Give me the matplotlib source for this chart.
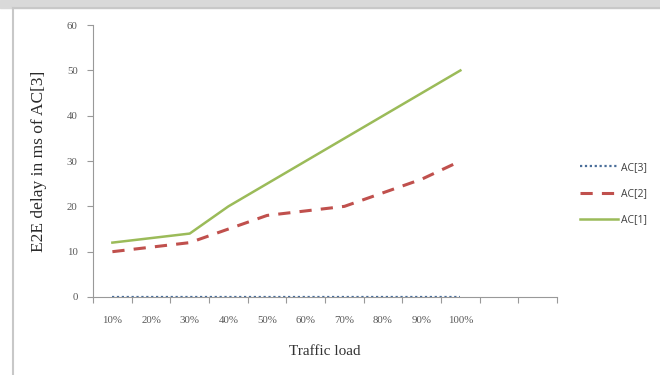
import matplotlib.pyplot as plt
from matplotlib.patches import Rectangle
from matplotlib.lines import Line2D

loads = ["10%", "20%", "30%", "40%", "50%", "60%", "70%", "80%", "90%", "100%"]
ac3 = [0, 0, 0, 0, 0, 0, 0, 0, 0, 0]
ac2 = [10, 11, 12, 15, 18, 19, 20, 23, 26, 30]
ac1 = [12, 13, 14, 20, 25, 30, 35, 40, 45, 50]

fig = plt.figure(figsize=(6.6, 3.75), dpi=100)

# grey frame round the chart, like the screenshot
fig.patches.append(Rectangle((0, 0.978), 1, 0.022, transform=fig.transFigure,
                             color="#d9d9d9", zorder=0))
fig.lines.append(Line2D([0.02, 0.02], [0, 0.978], transform=fig.transFigure,
                        color="#c8c8c8", lw=1.5))
fig.lines.append(Line2D([0.02, 1], [0.978, 0.978], transform=fig.transFigure,
                        color="#c8c8c8", lw=1.5))

ax = fig.add_axes([0.141, 0.208, 0.703, 0.725])
x = list(range(len(loads)))

ax.plot(x, ac3, color="#4A6E9A", lw=1.6, ls=(0, (1, 1.2)), label="AC[3]", zorder=3)
ax.plot(x, ac2, color="#C0504D", lw=2.2, ls=(0, (4, 3)), label="AC[2]")
ax.plot(x, ac1, color="#9BBB59", lw=1.8, label="AC[1]")

# 12 category slots, the last two empty
ax.set_xlim(-0.5, 11.5)
ax.set_ylim(0, 60)
ax.set_xticks([i + 0.5 for i in range(-1, 12)])
ax.set_xticklabels([])
ax.set_xticks(x, minor=True)
ax.set_xticklabels(loads, minor=True)
ax.tick_params(axis="x", which="major", length=4, direction="out", color="#999999")
ax.tick_params(axis="x", which="minor", length=0, pad=14, labelsize=7.8, labelcolor="#595959")
ax.set_yticks(range(0, 61, 10))
ax.tick_params(axis="y", length=4, direction="out", color="#999999",
               labelsize=7.8, labelcolor="#595959", pad=7)
for lab in ax.get_xticklabels(minor=True) + ax.get_yticklabels():
    lab.set_family("Liberation Serif")

for s in ["top", "right"]:
    ax.spines[s].set_visible(False)
for s in ["left", "bottom"]:
    ax.spines[s].set_color("#999999")

ax.set_xlabel("Traffic load", family="Liberation Serif", fontsize=11,
              color="#333333", labelpad=14)
ax.set_ylabel("E2E delay in ms of AC[3]", family="Liberation Serif", fontsize=12.5,
              color="#2a2a2a", labelpad=14)

ax.legend(loc="center left", bbox_to_anchor=(1.03, 0.38), frameon=False,
          handlelength=3.6, handletextpad=0.3, labelspacing=1.45,
          labelcolor="#404040", prop={"family": "Open Sans", "size": 7.5})

fig.savefig("out.png", dpi=100)
